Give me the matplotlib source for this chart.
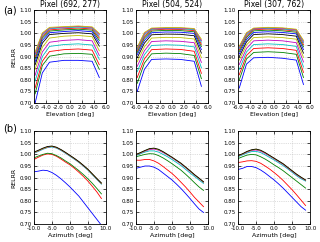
import matplotlib
matplotlib.use("Agg")
import matplotlib.pyplot as plt
import numpy as np

# elevation cuts (top row)
elev = [-5.8, -4.6, -3.4, -1.0, 1.4, 3.7, 4.9]
titles = ["Pixel (692, 277)", "Pixel (504, 524)", "Pixel (307, 762)"]
top_colors = ["b", "g", "r", "c", "m", "y", "k", "b", "g", "r", "c", "m", "y"]

elev_p1 = [
    [0.700, 0.830, 0.876, 0.884, 0.884, 0.880, 0.810],
    [0.740, 0.862, 0.902, 0.912, 0.914, 0.910, 0.845],
    [0.765, 0.880, 0.922, 0.930, 0.933, 0.928, 0.865],
    [0.795, 0.900, 0.944, 0.952, 0.955, 0.950, 0.888],
    [0.820, 0.920, 0.962, 0.970, 0.973, 0.968, 0.905],
    [0.845, 0.940, 0.980, 0.988, 0.991, 0.986, 0.925],
    [0.865, 0.958, 0.995, 1.000, 1.003, 0.998, 0.945],
    [0.878, 0.970, 1.003, 1.008, 1.012, 1.007, 0.958],
    [0.890, 0.980, 1.010, 1.015, 1.018, 1.014, 0.970],
    [0.900, 0.988, 1.015, 1.020, 1.023, 1.019, 0.980],
    [0.908, 0.994, 1.020, 1.024, 1.027, 1.023, 0.988],
    [0.914, 0.998, 1.023, 1.027, 1.030, 1.026, 0.995],
    [0.920, 1.002, 1.026, 1.029, 1.032, 1.028, 1.000],
]
elev_p2 = [
    [0.750, 0.845, 0.888, 0.890, 0.888, 0.880, 0.772],
    [0.785, 0.872, 0.912, 0.915, 0.913, 0.905, 0.805],
    [0.810, 0.890, 0.930, 0.933, 0.931, 0.923, 0.828],
    [0.835, 0.908, 0.948, 0.951, 0.949, 0.942, 0.852],
    [0.858, 0.925, 0.965, 0.968, 0.966, 0.960, 0.875],
    [0.878, 0.942, 0.980, 0.983, 0.982, 0.976, 0.895],
    [0.895, 0.958, 0.994, 0.997, 0.996, 0.990, 0.915],
    [0.908, 0.970, 1.003, 1.006, 1.005, 1.000, 0.930],
    [0.918, 0.980, 1.010, 1.013, 1.012, 1.007, 0.943],
    [0.926, 0.988, 1.015, 1.018, 1.017, 1.012, 0.953],
    [0.932, 0.995, 1.018, 1.021, 1.020, 1.016, 0.962],
    [0.937, 1.000, 1.021, 1.023, 1.023, 1.019, 0.969],
    [0.940, 1.004, 1.023, 1.025, 1.025, 1.021, 0.975],
]
elev_p3 = [
    [0.765, 0.868, 0.895, 0.897, 0.893, 0.885, 0.780],
    [0.800, 0.890, 0.918, 0.921, 0.918, 0.910, 0.810],
    [0.822, 0.905, 0.935, 0.938, 0.935, 0.927, 0.832],
    [0.845, 0.920, 0.952, 0.955, 0.952, 0.944, 0.855],
    [0.866, 0.935, 0.968, 0.971, 0.968, 0.960, 0.877],
    [0.885, 0.950, 0.982, 0.985, 0.982, 0.975, 0.897],
    [0.900, 0.963, 0.995, 0.998, 0.995, 0.988, 0.915],
    [0.912, 0.973, 1.004, 1.007, 1.004, 0.998, 0.930],
    [0.922, 0.982, 1.011, 1.014, 1.011, 1.005, 0.942],
    [0.930, 0.989, 1.016, 1.019, 1.016, 1.010, 0.952],
    [0.936, 0.995, 1.019, 1.022, 1.019, 1.013, 0.960],
    [0.941, 1.000, 1.021, 1.024, 1.022, 1.016, 0.966],
    [0.945, 1.003, 1.023, 1.026, 1.024, 1.018, 0.970],
]

# azimuth cuts (bottom row)
azim = [-10.0, -8.75, -7.5, -6.25, -5.0, -3.75, -2.5, -1.25,
        0.0, 1.25, 2.5, 3.75, 5.0, 6.25, 7.5, 8.75]
bot_colors = ["b", "r", "g", "c", "m", "y", "k"]

azim_p1 = [
    [0.925, 0.928, 0.932, 0.930, 0.922, 0.910, 0.895, 0.878, 0.860, 0.840, 0.820, 0.795, 0.770, 0.745, 0.720, 0.695],
    [0.978, 0.988, 0.997, 1.002, 1.000, 0.992, 0.980, 0.967, 0.955, 0.940, 0.923, 0.905, 0.885, 0.862, 0.838, 0.810],
    [0.985, 0.993, 1.000, 1.005, 1.003, 0.995, 0.985, 0.972, 0.960, 0.945, 0.930, 0.913, 0.895, 0.875, 0.853, 0.830],
    [1.005, 1.013, 1.022, 1.029, 1.032, 1.027, 1.017, 1.005, 0.992, 0.979, 0.965, 0.949, 0.932, 0.912, 0.892, 0.872],
    [1.007, 1.015, 1.024, 1.031, 1.034, 1.029, 1.019, 1.007, 0.994, 0.981, 0.967, 0.951, 0.934, 0.914, 0.894, 0.874],
    [1.008, 1.016, 1.025, 1.032, 1.035, 1.030, 1.020, 1.008, 0.995, 0.982, 0.968, 0.952, 0.935, 0.915, 0.895, 0.875],
    [1.010, 1.018, 1.027, 1.034, 1.036, 1.031, 1.021, 1.009, 0.996, 0.983, 0.969, 0.953, 0.936, 0.916, 0.896, 0.877],
]
azim_p2 = [
    [0.940, 0.945, 0.950, 0.950, 0.945, 0.935, 0.920, 0.905, 0.890, 0.872, 0.853, 0.832, 0.810, 0.787, 0.765, 0.750],
    [0.975, 0.975, 0.978, 0.978, 0.972, 0.962, 0.948, 0.933, 0.918, 0.900, 0.880, 0.860, 0.838, 0.815, 0.795, 0.775],
    [0.990, 0.995, 1.000, 1.003, 1.002, 0.995, 0.985, 0.973, 0.960, 0.946, 0.932, 0.915, 0.897, 0.878, 0.860, 0.845],
    [0.995, 1.003, 1.010, 1.015, 1.015, 1.010, 1.000, 0.990, 0.978, 0.965, 0.952, 0.936, 0.920, 0.905, 0.890, 0.875],
    [0.998, 1.006, 1.014, 1.021, 1.023, 1.018, 1.008, 0.997, 0.985, 0.972, 0.959, 0.943, 0.927, 0.911, 0.896, 0.880],
    [0.999, 1.007, 1.016, 1.024, 1.026, 1.021, 1.011, 0.999, 0.987, 0.974, 0.961, 0.945, 0.929, 0.912, 0.897, 0.881],
    [1.000, 1.008, 1.017, 1.025, 1.027, 1.022, 1.012, 1.000, 0.988, 0.975, 0.962, 0.946, 0.930, 0.913, 0.898, 0.882],
]
azim_p3 = [
    [0.935, 0.940, 0.948, 0.948, 0.943, 0.933, 0.920, 0.905, 0.890, 0.873, 0.855, 0.835, 0.815, 0.795, 0.775, 0.760],
    [0.965, 0.968, 0.972, 0.973, 0.970, 0.962, 0.950, 0.937, 0.922, 0.906, 0.888, 0.868, 0.848, 0.826, 0.803, 0.780],
    [0.982, 0.990, 0.997, 1.000, 0.998, 0.990, 0.980, 0.968, 0.955, 0.943, 0.930, 0.915, 0.900, 0.885, 0.870, 0.855],
    [0.990, 0.998, 1.006, 1.012, 1.013, 1.008, 0.998, 0.987, 0.976, 0.964, 0.952, 0.938, 0.923, 0.908, 0.895, 0.885],
    [0.993, 1.001, 1.010, 1.017, 1.019, 1.014, 1.004, 0.993, 0.981, 0.969, 0.957, 0.942, 0.927, 0.912, 0.899, 0.888],
    [0.994, 1.002, 1.012, 1.019, 1.022, 1.017, 1.007, 0.995, 0.983, 0.971, 0.959, 0.944, 0.929, 0.914, 0.901, 0.889],
    [0.995, 1.003, 1.013, 1.020, 1.023, 1.018, 1.008, 0.996, 0.984, 0.972, 0.960, 0.945, 0.930, 0.915, 0.902, 0.890],
]

top_sets = [elev_p1, elev_p2, elev_p3]
bot_sets = [azim_p1, azim_p2, azim_p3]

fig = plt.figure(figsize=(3.2, 2.42), dpi=100)
lefts = [0.106, 0.425, 0.744]
w = 0.225
fs = 4.0


def style(ax):
    ax.grid(True, color="0.75", linestyle=":", linewidth=0.5)
    ax.tick_params(direction="in", top=True, right=True, labelsize=fs,
                   length=2, width=0.5, pad=1.5)
    for s in ax.spines.values():
        s.set_linewidth(0.6)
    ax.set_ylim(0.70, 1.10)
    ax.set_yticks(np.arange(0.70, 1.101, 0.05))
    ax.yaxis.set_major_formatter(matplotlib.ticker.FormatStrFormatter("%.2f"))
    ax.xaxis.set_major_formatter(matplotlib.ticker.FormatStrFormatter("%.1f"))


for i in range(3):
    ax = fig.add_axes([lefts[i], 0.574, w, 0.384])
    for vals, c in zip(top_sets[i], top_colors):
        ax.plot(elev, vals, color=c, linewidth=0.6)
    style(ax)
    ax.set_xlim(-6, 6)
    ax.set_xticks(np.arange(-6, 6.1, 2))
    ax.set_title(titles[i], fontsize=5.5, pad=2)
    ax.set_xlabel("Elevation [deg]", fontsize=4.5, labelpad=1)
    if i == 0:
        ax.set_ylabel("RELRR", fontsize=4.5, labelpad=2)

    ax = fig.add_axes([lefts[i], 0.074, w, 0.384])
    for vals, c in zip(bot_sets[i], bot_colors):
        ax.plot(azim, vals, color=c, linewidth=0.6)
    style(ax)
    ax.set_xlim(-10, 10)
    ax.set_xticks(np.arange(-10, 10.1, 5))
    ax.set_xlabel("Azimuth [deg]", fontsize=4.5, labelpad=1)
    if i == 0:
        ax.set_ylabel("RELRR", fontsize=4.5, labelpad=2)

fig.text(0.01, 0.945, "(a)", fontsize=7)
fig.text(0.01, 0.455, "(b)", fontsize=7)

fig.savefig("out.png", dpi=100)
